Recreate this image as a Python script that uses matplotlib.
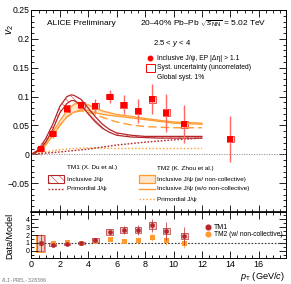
import numpy as np
import matplotlib
matplotlib.use("Agg")
import matplotlib.pyplot as plt
from matplotlib.patches import Rectangle
from matplotlib.lines import Line2D

plt.rcParams["font.family"] = ["Liberation Sans", "DejaVu Sans"]
plt.rcParams["mathtext.fontset"] = "custom"
plt.rcParams["mathtext.rm"] = "Liberation Sans"
plt.rcParams["mathtext.it"] = "Liberation Sans:italic"
plt.rcParams["hatch.linewidth"] = 0.5

# data: inclusive J/psi v2
pt = [0.65, 1.5, 2.5, 3.5, 4.5, 5.5, 6.5, 7.5, 8.5, 9.5, 10.75, 14.0]
v2 = [0.009, 0.036, 0.079, 0.086, 0.083, 0.100, 0.086, 0.075, 0.095, 0.072, 0.052, 0.026]
v2_stat = [0.011, 0.007, 0.006, 0.007, 0.012, 0.011, 0.016, 0.021, 0.026, 0.033, 0.033, 0.040]
v2_syst = [0.004, 0.004, 0.006, 0.005, 0.005, 0.005, 0.005, 0.006, 0.006, 0.006, 0.006, 0.005]

# TM1 (X. Du et al.)
tm1_pt = [0, 0.5, 1, 1.5, 2, 2.5, 2.8, 3, 3.5, 4, 4.5, 5, 5.5, 6, 7, 8, 9, 10, 11, 12]
tm1_hi = [0, 0.008, 0.027, 0.052, 0.083, 0.100, 0.103, 0.102, 0.095, 0.080, 0.065, 0.052, 0.043, 0.037, 0.033, 0.031, 0.031, 0.031, 0.031, 0.031]
tm1_lo = [0, 0.006, 0.021, 0.043, 0.072, 0.088, 0.093, 0.093, 0.085, 0.070, 0.056, 0.045, 0.038, 0.033, 0.030, 0.029, 0.028, 0.028, 0.028, 0.028]
tm1_prim_pt = [0, 2, 4, 6, 8, 10, 12]
tm1_prim = [0, 0.004, 0.009, 0.016, 0.021, 0.025, 0.028]

# TM2 (K. Zhou et al.)
tm2_pt = [0, 0.5, 1, 1.5, 2, 2.5, 3, 3.5, 4, 4.5, 5, 6, 7, 8, 9, 10, 11, 12]
tm2_hi = [0, 0.006, 0.020, 0.038, 0.058, 0.075, 0.087, 0.089, 0.086, 0.080, 0.075, 0.069, 0.066, 0.062, 0.059, 0.056, 0.055, 0.054]
tm2_lo = [0, 0.005, 0.016, 0.032, 0.050, 0.065, 0.073, 0.077, 0.076, 0.072, 0.069, 0.066, 0.063, 0.060, 0.057, 0.054, 0.053, 0.052]
tm2_nc = [0, 0.005, 0.016, 0.032, 0.050, 0.065, 0.073, 0.075, 0.073, 0.069, 0.064, 0.056, 0.051, 0.048, 0.047, 0.046, 0.046, 0.046]
tm2_prim_pt = [0, 1, 2, 3, 4, 6, 8, 10, 12]
tm2_prim = [0, 0.004, 0.008, 0.010, 0.011, 0.010, 0.010, 0.010, 0.010]

# Data/Model
r_pt = pt[:11]
r_tm1 = [1.0, 0.77, 0.85, 0.96, 1.37, 2.37, 2.6, 2.6, 3.2, 2.5, 1.9]
r_tm1_stat = [1.1, 0.2, 0.12, 0.15, 0.2, 0.3, 0.5, 0.6, 0.8, 1.1, 1.1]
r_tm1_syst = [1.0, 0.2, 0.15, 0.15, 0.2, 0.35, 0.4, 0.4, 0.4, 0.4, 0.4]
r_tm2 = [0.95, 0.95, 1.1, 1.0, 1.3, 1.5, 1.3, 1.35, 1.7, 1.4, 1.0]
r_tm2_stat = [1.1, 0.15, 0.1, 0.12, 0.15, 0.2, 0.25, 0.35, 0.45, 0.6, 0.6]

RED = "#ff0000"
DRED = "#b5262b"
ORANGE = "#ff9a2e"

fig = plt.figure(figsize=(2.91, 2.84), dpi=100)
ax = fig.add_axes([0.108, 0.2535, 0.874, 0.7113])
axr = fig.add_axes([0.108, 0.0915, 0.874, 0.162])

# models
ax.fill_between(tm2_pt, tm2_lo, tm2_hi, facecolor=ORANGE, alpha=0.25, lw=0)
ax.plot(tm2_pt, tm2_hi, color=ORANGE, lw=0.9)
ax.plot(tm2_pt, tm2_lo, color=ORANGE, lw=0.9)
ax.plot(tm2_pt, tm2_nc, color=ORANGE, lw=1.0, ls=(0, (6, 3)))
ax.plot(tm2_prim_pt, tm2_prim, color=ORANGE, lw=1.0, ls=(0, (1, 1.5)))
ax.fill_between(tm1_pt, tm1_lo, tm1_hi, facecolor="none", edgecolor="#d9534f", hatch="\\\\\\\\", lw=0)
ax.plot(tm1_pt, tm1_hi, color=DRED, lw=0.9)
ax.plot(tm1_pt, tm1_lo, color=DRED, lw=0.9)
ax.plot(tm1_prim_pt, tm1_prim, color=DRED, lw=1.0, ls=(0, (1.2, 1.2)))

ax.axhline(0, color="#888888", lw=0.6, ls=(0, (1.5, 1.5)))

# data
for x, y, s in zip(pt, v2, v2_syst):
    ax.add_patch(Rectangle((x - 0.24, y - s), 0.48, 2 * s, facecolor=RED, alpha=0.25,
                           edgecolor="none"))
    ax.add_patch(Rectangle((x - 0.24, y - s), 0.48, 2 * s, facecolor="none",
                           edgecolor=RED, lw=0.6, alpha=0.8))
ax.errorbar(pt, v2, yerr=v2_stat, fmt="none", ecolor="#ff6666", elinewidth=1.0, capsize=0)
ax.plot(pt, v2, "s", color=RED, ms=4.4, mew=0)

ax.set_xlim(0, 17.9)
ax.set_ylim(-0.1, 0.25)
ax.set_yticks([-0.05, 0, 0.05, 0.1, 0.15, 0.2, 0.25])
ax.set_yticklabels(["\u22120.05", "0", "0.05", "0.1", "0.15", "0.2", "0.25"])
ax.set_yticks(np.arange(-0.1, 0.2501, 0.01), minor=True)
ax.set_xticks(np.arange(0, 18, 2))
ax.set_xticks(np.arange(0, 18, 0.5), minor=True)
ax.tick_params(labelbottom=False)

for a in (ax, axr):
    a.tick_params(which="both", direction="in", top=True, right=True, width=0.6,
                  labelsize=6.2, pad=1.5)
    a.tick_params(which="major", length=5)
    a.tick_params(which="minor", length=2.5)
    for sp in a.spines.values():
        sp.set_linewidth(0.7)
ax.spines["bottom"].set_linewidth(1.2)

# texts
T = ax.transAxes
ax.text(0.061, 0.931, "ALICE Preliminary", transform=T, fontsize=6, va="center")
ax.text(0.427, 0.931, "20\u201340% Pb\u2013Pb $\\sqrt{s_{\\rm NN}}$ = 5.02 TeV", transform=T,
        fontsize=6, va="center")
ax.text(0.478, 0.832, "2.5 < $y$ < 4", transform=T, fontsize=5.6, va="center")

ax.plot([0.466], [0.762], "o", color=RED, ms=3.2, transform=T, clip_on=False)
ax.text(0.494, 0.762, "Inclusive J/\u03c8, EP |\u0394\u03b7| > 1.1", transform=T, fontsize=4.9, va="center")
ax.add_patch(Rectangle((0.45, 0.695), 0.034, 0.036, transform=T, facecolor="none",
                       edgecolor=RED, lw=0.7))
ax.text(0.494, 0.713, "Syst. uncertainty (uncorrelated)", transform=T, fontsize=4.9, va="center")
ax.text(0.494, 0.668, "Global syst. 1%", transform=T, fontsize=4.9, va="center")

# TM1 legend
ax.text(0.140, 0.218, "TM1 (X. Du et al.)", transform=T, fontsize=4.6, va="center")
ax.add_patch(Rectangle((0.067, 0.146), 0.06, 0.036, transform=T, facecolor="none",
                       edgecolor="#d9534f", hatch="\\\\\\\\", lw=0))
ax.add_patch(Rectangle((0.067, 0.146), 0.06, 0.036, transform=T, facecolor="none",
                       edgecolor=DRED, lw=0.8))
ax.text(0.140, 0.163, "Inclusive J/\u03c8", transform=T, fontsize=4.6, va="center")
ax.add_line(Line2D([0.067, 0.127], [0.114, 0.114], transform=T, color=DRED, lw=1.0,
                   ls=(0, (1.2, 1.2))))
ax.text(0.140, 0.114, "Primordial J/\u03c8", transform=T, fontsize=4.6, va="center")

# TM2 legend
ax.text(0.494, 0.213, "TM2 (K. Zhou et al.)", transform=T, fontsize=4.6, va="center")
ax.add_patch(Rectangle((0.424, 0.146), 0.06, 0.036, transform=T, facecolor=ORANGE,
                       alpha=0.25, lw=0))
ax.add_patch(Rectangle((0.424, 0.146), 0.06, 0.036, transform=T, facecolor="none",
                       edgecolor=ORANGE, lw=0.9))
ax.text(0.494, 0.163, "Inclusive J/\u03c8 (w/ non-collective)", transform=T, fontsize=4.6, va="center")
ax.add_line(Line2D([0.424, 0.484], [0.114, 0.114], transform=T, color=ORANGE, lw=1.0))
ax.text(0.494, 0.114, "Inclusive J/\u03c8 (w/o non-collective)", transform=T, fontsize=4.6, va="center")
ax.add_line(Line2D([0.424, 0.484], [0.064, 0.064], transform=T, color=ORANGE, lw=1.0,
                   ls=(0, (1, 1.5))))
ax.text(0.494, 0.064, "Primordial J/\u03c8", transform=T, fontsize=4.6, va="center")

# ratio panel
axr.axhline(1, color="#333333", lw=0.8, ls=(0, (1.5, 1.5)))
axr.add_patch(Rectangle((r_pt[0] - 0.3, r_tm2[0] - 1.1), 0.6, 2.2, facecolor="none",
                        edgecolor=ORANGE, lw=0.7))
for x, y, s in zip(r_pt, r_tm1, r_tm1_syst):
    axr.add_patch(Rectangle((x - 0.24, y - s), 0.48, 2 * s, facecolor=DRED, alpha=0.25,
                            edgecolor="none"))
    axr.add_patch(Rectangle((x - 0.24, y - s), 0.48, 2 * s, facecolor="none",
                            edgecolor=DRED, lw=0.6, alpha=0.8))
axr.errorbar(r_pt, r_tm2, yerr=r_tm2_stat, fmt="none", ecolor=ORANGE, elinewidth=0.7, alpha=0.7)
axr.plot(r_pt, r_tm2, "s", color=ORANGE, ms=3.6, mew=0)
axr.errorbar(r_pt, r_tm1, yerr=r_tm1_stat, fmt="none", ecolor=DRED, elinewidth=0.7, alpha=0.7)
axr.plot(r_pt, r_tm1, "o", color=DRED, ms=3.4, mew=0)

axr.plot([0.694], [0.674], "o", color=DRED, ms=3.4, transform=axr.transAxes, clip_on=False)
axr.text(0.716, 0.674, "TM1", transform=axr.transAxes, fontsize=5, va="center")
axr.plot([0.694], [0.52], "o", color=ORANGE, ms=3.4, transform=axr.transAxes, clip_on=False)
axr.text(0.716, 0.52, "TM2 (w/ non-collective)", transform=axr.transAxes, fontsize=4.8, va="center")

axr.set_xlim(0, 17.9)
axr.set_ylim(-0.9, 4.9)
axr.set_yticks([0, 1, 2, 3, 4])
axr.set_yticks(np.arange(-0.5, 4.9, 0.5), minor=True)
axr.set_xticks(np.arange(0, 18, 2))
axr.set_xticks(np.arange(0, 18, 0.5), minor=True)
axr.tick_params(axis="y", labelsize=5)
axr.tick_params(axis="x", labelsize=6.5, pad=1.5)

fig.text(0.036, 0.895, "$v_2$", rotation=90, fontsize=7.5, ha="center", va="center")
fig.text(0.035, 0.17, "Data/Model", rotation=90, fontsize=6.5, ha="center", va="center")
fig.text(0.978, 0.028, "$p_{\\rm T}$ (GeV/$c$)", fontsize=6.6, ha="right", va="center")
fig.text(0.008, 0.014, "ALI-PREL-328306", fontsize=3.6, family="DejaVu Sans Mono",
         color="#777777", va="center")

fig.savefig("out.png", dpi=100)
